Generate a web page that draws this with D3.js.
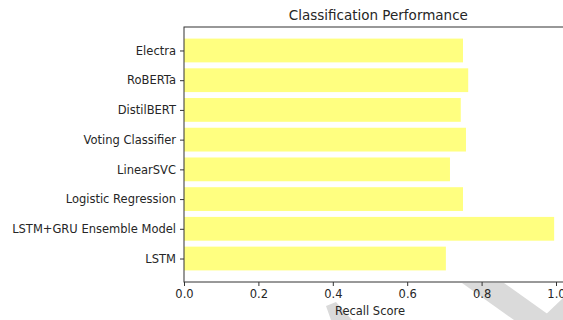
<!DOCTYPE html>
<html><head><meta charset="utf-8">
<script src="https://cdn.jsdelivr.net/npm/d3@7"></script>
<style>body{margin:0;background:#fff}svg{display:block}text{font-family:"DejaVu Sans",sans-serif;fill:#262626}</style>
</head><body><svg id="c" width="563" height="320"></svg>
<script>
const categories = ["LSTM","LSTM+GRU Ensemble Model","Logistic Regression","LinearSVC","Voting Classifier","DistilBERT","RoBERTa","Electra"];
const recall = [0.704,0.995,0.750,0.715,0.758,0.744,0.764,0.750];
const xTicks = [0,0.2,0.4,0.6,0.8,1.0];

const svg = d3.select("#c");
const L = 184, T = 27, B = 282;
const xmax = d3.max(recall)*1.05;
const R = L + xmax*372;
const x = d3.scaleLinear().domain([0,xmax]).range([L,R]);
const y = d3.scaleLinear().domain([-0.79,7.79]).range([B,T]);

// faint watermark stripes seen in the reference image
const wm = svg.append("g").attr("fill","#dadada");
wm.append("path").attr("d","M462,283 L504,283 L556,320 L514,320 Z");
wm.append("path").attr("d","M540,320 L563,298 L563,320 Z");
wm.append("path").attr("d","M326,306 L336,302 L352,320 L331,320 Z");

svg.selectAll("rect.bar").data(recall).join("rect").attr("class","bar")
  .attr("x",x(0)).attr("width",d=>x(d)-x(0))
  .attr("y",(d,i)=>y(i+0.4)).attr("height",(d,i)=>y(i-0.4)-y(i+0.4))
  .attr("fill","#ffff80");

const fs = 11.5;
const xa = svg.append("g").attr("transform",`translate(0,${B})`)
  .call(d3.axisBottom(x).tickValues(xTicks).tickFormat(d3.format(".1f")).tickSizeOuter(0).tickSize(4).tickPadding(4));
const ya = svg.append("g").attr("transform",`translate(${L},0)`)
  .call(d3.axisLeft(y).tickValues(d3.range(categories.length)).tickFormat(i=>categories[i]).tickSizeOuter(0).tickSize(4).tickPadding(4));
[xa,ya].forEach(a=>{a.select(".domain").remove();a.selectAll("line").attr("stroke","#333");a.selectAll("text").attr("font-size",fs).attr("font-family","DejaVu Sans").attr("fill","#262626");});

// spines
svg.append("rect").attr("x",L).attr("y",T).attr("width",R-L).attr("height",B-T)
  .attr("fill","none").attr("stroke","#333").attr("stroke-width",1);

svg.append("text").attr("x",(L+R)/2).attr("y",T-7).attr("text-anchor","middle").attr("font-size",13.5).text("Classification Performance");
svg.append("text").attr("x",x(0.5)).attr("y",B+33).attr("text-anchor","middle").attr("font-size",fs).text("Recall Score");
</script></body></html>
